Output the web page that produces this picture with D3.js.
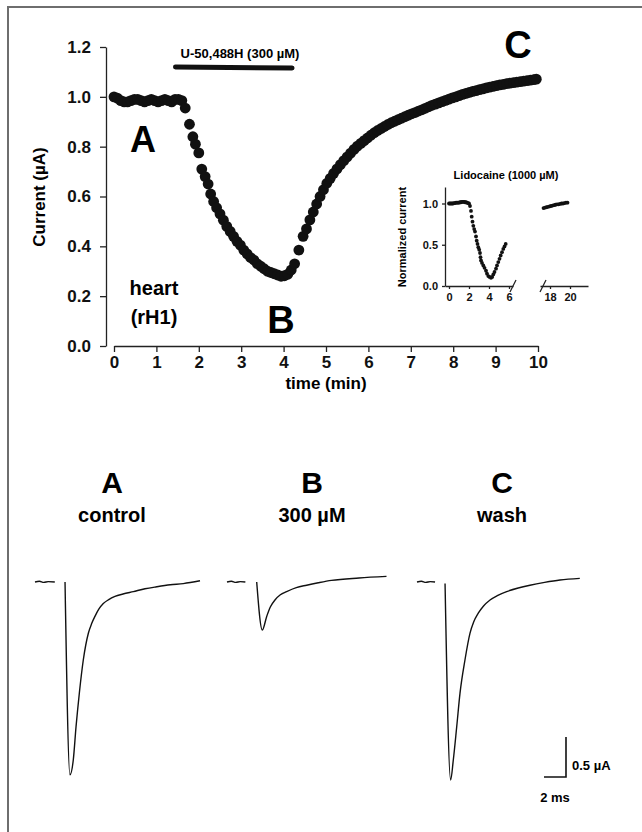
<!DOCTYPE html>
<html>
<head>
<meta charset="utf-8">
<script src="https://cdn.jsdelivr.net/npm/d3@7"></script>
<style>
  body { margin: 0; background: #fff; }
  svg { display: block; font-family: "Liberation Sans", Arial, sans-serif; font-weight: bold; }
  .axis path, .axis line { stroke: #222; stroke-width: 1.3; }
  .axis text { fill: #111; font-weight: bold; font-family: "Liberation Sans", Arial, sans-serif; }
</style>
</head>
<body>
<svg id="fig" width="642" height="832"></svg>
<script>
// main time course: [time (min), current (µA)]
const timeCourse = [
  [0.00,1.000],[0.08,0.995],[0.16,0.985],[0.24,0.980],[0.32,0.980],[0.40,0.985],
  [0.48,0.990],[0.56,0.990],[0.64,0.985],[0.72,0.980],[0.80,0.985],[0.88,0.990],
  [0.96,0.985],[1.04,0.980],[1.12,0.985],[1.20,0.990],[1.28,0.985],[1.36,0.980],
  [1.44,0.990],[1.52,0.990],[1.60,0.985],
  [1.68,0.955],[1.78,0.890],[1.86,0.840],[1.92,0.810],[2.00,0.775],[2.07,0.710],
  [2.15,0.680],[2.22,0.650],[2.28,0.610],[2.35,0.580],[2.42,0.555],[2.50,0.530],
  [2.58,0.505],[2.66,0.480],[2.74,0.460],[2.82,0.440],[2.90,0.420],[2.98,0.405],
  [3.06,0.385],[3.14,0.370],[3.22,0.355],[3.30,0.345],[3.38,0.330],[3.46,0.320],
  [3.54,0.310],[3.62,0.300],[3.70,0.295],[3.78,0.290],[3.86,0.285],[3.94,0.280],
  [4.02,0.282],[4.10,0.288],[4.18,0.305],[4.26,0.330],[4.36,0.385],[4.46,0.440],
  [4.54,0.470],[4.62,0.506],[4.70,0.538],[4.78,0.570],[4.86,0.600],[4.94,0.627],
  [5.02,0.653],[5.10,0.673],[5.18,0.693],[5.26,0.711],[5.34,0.728],[5.42,0.744],
  [5.50,0.759],[5.58,0.774],[5.66,0.789],[5.74,0.802],[5.82,0.813],[5.90,0.824],
  [5.98,0.835],[6.06,0.846],[6.14,0.856],[6.22,0.865],[6.30,0.873],[6.38,0.881],
  [6.46,0.889],[6.54,0.896],[6.62,0.902],[6.70,0.908],[6.78,0.914],[6.86,0.920],
  [6.94,0.926],[7.02,0.932],[7.10,0.937],[7.18,0.943],[7.26,0.948],[7.34,0.954],
  [7.42,0.960],[7.50,0.966],[7.58,0.971],[7.66,0.976],[7.74,0.981],[7.82,0.986],
  [7.90,0.991],[7.98,0.996],[8.06,1.000],[8.14,1.005],[8.22,1.010],[8.30,1.014],
  [8.38,1.018],[8.46,1.022],[8.54,1.025],[8.62,1.029],[8.70,1.032],[8.78,1.036],
  [8.86,1.039],[8.94,1.042],[9.02,1.045],[9.10,1.048],[9.18,1.050],[9.26,1.053],
  [9.34,1.055],[9.42,1.057],[9.50,1.059],[9.58,1.061],[9.66,1.063],[9.74,1.065],
  [9.82,1.067],[9.90,1.069],[9.96,1.071]
];
const mainYTicks = [0, 0.2, 0.4, 0.6, 0.8, 1.0, 1.2];
const mainXTicks = [0, 1, 2, 3, 4, 5, 6, 7, 8, 9, 10];
const drugBar = [1.45, 4.2];   // U-50,488H application (min)

// inset: lidocaine, normalized current
const lidoEarly = [
  [0.0,1.000],[0.1,1.000],[0.2,1.000],[0.3,1.000],[0.4,1.000],[0.5,1.005],[0.6,1.005],
  [0.7,1.010],[0.8,1.010],[0.9,1.010],[1.0,1.010],[1.1,1.015],[1.2,1.015],[1.3,1.020],
  [1.4,1.020],[1.5,1.020],[1.6,1.015],[1.7,1.015],[1.8,1.010],[1.9,1.005],[2.0,1.000],
  [2.1,0.970],[2.2,0.910],[2.27,0.840],[2.35,0.780],[2.43,0.730],[2.52,0.690],[2.6,0.660],
  [2.7,0.600],[2.77,0.550],[2.85,0.510],[2.93,0.470],[3.02,0.440],[3.1,0.400],[3.15,0.350],
  [3.2,0.310],[3.3,0.280],[3.43,0.250],[3.55,0.220],[3.7,0.185],[3.8,0.150],[3.93,0.120],
  [4.05,0.110],[4.2,0.100],[4.32,0.110],[4.43,0.140],[4.55,0.170],[4.7,0.210],[4.8,0.250],
  [4.93,0.290],[5.05,0.330],[5.17,0.370],[5.3,0.410],[5.43,0.450],[5.55,0.480],[5.67,0.510]
];
const lidoLate = [
  [17.35,0.945],[17.5,0.950],[17.65,0.955],[17.8,0.960],[17.95,0.965],[18.1,0.970],
  [18.25,0.975],[18.4,0.980],[18.55,0.985],[18.7,0.990],[18.85,0.990],[19.0,0.995],
  [19.15,1.000],[19.3,1.000],[19.45,1.005],[19.6,1.010],[19.75,1.010]
];
const insetYTicks = [0, 0.5, 1.0];
const insetXTicksEarly = [0, 2, 4, 6];
const insetXTicksLate = [18, 20];

// current traces: [time (ms), current (µA) rel. baseline]; null = gap
const traceA = [
  [0,0],[0.4,0.01],[0.8,-0.005],[1.2,0.005],[1.8,0], null,
  [2.73,0],[3.18,-2.41],[3.48,-2.225],[3.73,-1.81],[4.03,-1.39],[4.39,-0.975],
  [4.85,-0.64],[5.15,-0.52],[5.45,-0.43],[5.8,-0.34],[6.21,-0.27],[6.7,-0.22],
  [7.27,-0.18],[8.0,-0.15],[8.94,-0.12],[10.0,-0.085],[11.06,-0.06],[12.3,-0.035],
  [13.48,-0.02],[15.0,0.015]
];
const traceB = [
  [0,0],[0.4,0.01],[0.8,-0.005],[1.2,0.005],[1.67,0], null,
  [2.7,0],[3.21,-0.6],[3.61,-0.43],[3.95,-0.31],[4.36,-0.225],[4.85,-0.16],
  [5.42,-0.12],[6.3,-0.07],[7.24,-0.04],[8.3,-0.01],[9.5,0.02],[12.0,0.05],[14.5,0.07]
];
const traceC = [
  [0,0],[0.4,0.01],[0.8,-0.005],[1.2,0.005],[1.64,0], null,
  [2.55,-0.02],[3.06,-2.475],[3.3,-2.225],[3.61,-1.81],[3.91,-1.39],[4.36,-0.975],
  [4.82,-0.64],[5.15,-0.5],[5.57,-0.39],[6.05,-0.3],[6.64,-0.225],[7.3,-0.17],
  [8.15,-0.12],[9.2,-0.075],[10.27,-0.04],[11.6,-0.005],[13.0,0.025],[14.8,0.045]
];
const traceLabels = ["A", "B", "C"];
const traceConds = ["control", "300 µM", "wash"];
const scaleBar = { amp: 0.5, dur: 2 };   // µA, ms

const svg = d3.select("#fig");

// frame (only top and left edges show in the crop)
svg.append("path").attr("d", "M8,832V7H642").attr("fill", "none")
  .attr("stroke", "#6e6e6e").attr("stroke-width", 2);

// ---------- main time course ----------
const x = d3.scaleLinear().domain([0, 10]).range([114, 538]);
const y = d3.scaleLinear().domain([0, 1.2]).range([346, 47]);

svg.append("g").attr("class", "axis").attr("transform", "translate(106,0)")
  .call(d3.axisLeft(y).tickValues(mainYTicks).tickFormat(d3.format(".1f"))
    .tickSize(6).tickSizeOuter(0).tickPadding(9))
  .call(g => g.selectAll("text").style("font-size", "17px"));

svg.append("g").attr("class", "axis").attr("transform", "translate(0,346)")
  .call(d3.axisBottom(x).tickValues(mainXTicks).tickFormat(d3.format("d"))
    .tickSize(6).tickSizeOuter(0).tickPadding(4))
  .call(g => g.selectAll("text").style("font-size", "17px"));

svg.append("text").attr("transform", "translate(45,197) rotate(-90)")
  .attr("text-anchor", "middle").style("font-size", "17px").text("Current (µA)");
svg.append("text").attr("x", x(5)).attr("y", 389).attr("text-anchor", "middle")
  .style("font-size", "17px").text("time (min)");

svg.append("line").attr("x1", x(drugBar[0])).attr("x2", x(drugBar[1]))
  .attr("y1", 67).attr("y2", 68).attr("stroke", "#111").attr("stroke-width", 5)
  .attr("stroke-linecap", "round");
svg.append("text").attr("x", 240).attr("y", 58).attr("text-anchor", "middle")
  .style("font-size", "13px").text("U-50,488H (300 µM)");

svg.append("g").selectAll("circle").data(timeCourse).join("circle")
  .attr("cx", d => x(d[0])).attr("cy", d => y(d[1])).attr("r", 5.4).attr("fill", "#111");

svg.append("text").attr("x", 143).attr("y", 152).attr("text-anchor", "middle")
  .style("font-size", "36px").text("A");
svg.append("text").attr("x", 281).attr("y", 333).attr("text-anchor", "middle")
  .style("font-size", "38px").text("B");
svg.append("text").attr("x", 518).attr("y", 58).attr("text-anchor", "middle")
  .style("font-size", "38px").text("C");
svg.append("text").attr("x", 154).attr("y", 295).attr("text-anchor", "middle")
  .style("font-size", "20px").text("heart");
svg.append("text").attr("x", 154).attr("y", 324).attr("text-anchor", "middle")
  .style("font-size", "20px").text("(rH1)");

// ---------- inset ----------
const xi1 = d3.scaleLinear().domain([-0.4, 6.4]).range([445, 513]);
const xi2 = d3.scaleLinear().domain([17.0, 21.8]).range([540, 588]);
const yi = d3.scaleLinear().domain([0, 1.2]).range([286, 187]);

svg.append("g").attr("class", "axis").attr("transform", "translate(445,0)")
  .call(d3.axisLeft(yi).tickValues(insetYTicks).tickFormat(d3.format(".1f"))
    .tickSize(3).tickSizeOuter(0).tickPadding(4))
  .call(g => g.selectAll("text").style("font-size", "11px"));
svg.append("g").attr("class", "axis").attr("transform", "translate(0,286)")
  .call(d3.axisBottom(xi1).tickValues(insetXTicksEarly).tickFormat(d3.format("d"))
    .tickSize(3).tickSizeOuter(0).tickPadding(4))
  .call(g => g.selectAll("text").style("font-size", "11px"));
svg.append("g").attr("class", "axis").attr("transform", "translate(0,286)")
  .call(d3.axisBottom(xi2).tickValues(insetXTicksLate).tickFormat(d3.format("d"))
    .tickSize(3).tickSizeOuter(0).tickPadding(4))
  .call(g => g.selectAll("text").style("font-size", "11px"));
// axis break marks
[xi1.range()[1], xi2.range()[0] + 3].forEach(bx => {
  svg.append("line").attr("x1", bx - 3).attr("y1", 292).attr("x2", bx + 3).attr("y2", 280)
    .attr("stroke", "#222").attr("stroke-width", 1.3);
});

svg.append("text").attr("x", 506).attr("y", 179).attr("text-anchor", "middle")
  .style("font-size", "11px").text("Lidocaine (1000 µM)");
svg.append("text").attr("transform", "translate(406,237) rotate(-90)")
  .attr("text-anchor", "middle").style("font-size", "11px").text("Normalized current");

svg.append("g").selectAll("circle").data(lidoEarly).join("circle")
  .attr("cx", d => xi1(d[0])).attr("cy", d => yi(d[1])).attr("r", 1.9).attr("fill", "#111");
svg.append("g").selectAll("circle").data(lidoLate).join("circle")
  .attr("cx", d => xi2(d[0])).attr("cy", d => yi(d[1])).attr("r", 1.9).attr("fill", "#111");

// ---------- current traces ----------
const traceOrigins = [35, 227, 417];
const baseY = 582;
const pxPerMs = 11, pxPerUA = 80;
const ty = d3.scaleLinear().domain([0, -1]).range([baseY, baseY + pxPerUA]);

[traceA, traceB, traceC].forEach((tr, i) => {
  const tx = d3.scaleLinear().domain([0, 1]).range([traceOrigins[i], traceOrigins[i] + pxPerMs]);
  const line = d3.line().defined(d => d !== null)
    .x(d => tx(d[0])).y(d => ty(d[1])).curve(d3.curveMonotoneX);
  svg.append("path").datum(tr).attr("d", line)
    .attr("fill", "none").attr("stroke", "#111").attr("stroke-width", 1.4);
});

const labelX = [112, 312, 502];
traceLabels.forEach((t, i) => {
  svg.append("text").attr("x", labelX[i]).attr("y", 493).attr("text-anchor", "middle")
    .style("font-size", "30px").text(t);
  svg.append("text").attr("x", labelX[i]).attr("y", 522).attr("text-anchor", "middle")
    .style("font-size", "20px").text(traceConds[i]);
});

// scale bar
const sbx = 566, sby = 777;
const barH = ty(-scaleBar.amp) - ty(0);
svg.append("path")
  .attr("d", `M${sbx},${sby - barH}V${sby}H${sbx - scaleBar.dur * pxPerMs}`)
  .attr("fill", "none").attr("stroke", "#111").attr("stroke-width", 1.6);
svg.append("text").attr("x", 572).attr("y", 770).style("font-size", "13px").text("0.5 µA");
svg.append("text").attr("x", 555).attr("y", 802).attr("text-anchor", "middle")
  .style("font-size", "13px").text("2 ms");
</script>
</body>
</html>
